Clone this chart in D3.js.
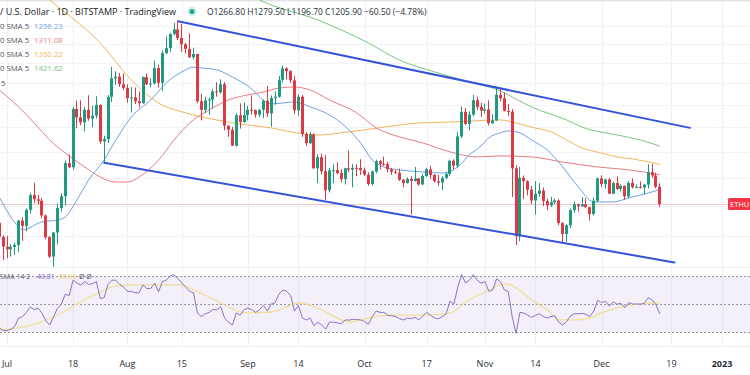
<!DOCTYPE html>
<html>
<head>
<meta charset="utf-8">
<script src="https://cdn.jsdelivr.net/npm/d3@7"></script>
<style>
  body { margin: 0; background: #ffffff; }
  svg { display: block; font-family: "Open Sans", "Noto Sans", sans-serif; }
</style>
</head>
<body>
<script>
// dagelijkse kaarsen ETH/USD, eerste dag 29 juni 2022
var eersteDag = "2022-06-29";

var opens = [1143, 1098,
  1068, 1060, 1067, 1073, 1150, 1133, 1186, 1237, 1222, 1217, 1167, 1097, 1038, 1112, 1192, 1233, 1355, 1339, 1581, 1543, 1522, 1577, 1538, 1551, 1599, 1441, 1451, 1637, 1725, 1733, 1696,
  1679, 1631, 1634, 1616, 1607, 1731, 1696, 1700, 1776, 1703, 1853, 1880, 1958, 1983, 1935, 1901, 1876, 1832, 1849, 1616, 1577, 1620, 1624, 1662, 1658, 1696, 1507, 1490, 1424, 1553, 1523,
  1554, 1577, 1575, 1556, 1577, 1618, 1561, 1631, 1637, 1718, 1775, 1761, 1715, 1575, 1637, 1472, 1434, 1470, 1335, 1378, 1324, 1254, 1327, 1328, 1317, 1295, 1335, 1330, 1337, 1336,
  1328, 1311, 1276, 1323, 1362, 1352, 1351, 1331, 1322, 1318, 1292, 1280, 1295, 1288, 1297, 1275, 1306, 1331, 1310, 1287, 1282, 1299, 1314, 1364, 1345, 1462, 1568, 1515, 1556, 1621, 1590,
  1573, 1579, 1518, 1530, 1646, 1630, 1572, 1569, 1335, 1100, 1299, 1287, 1256, 1218, 1241, 1253, 1216, 1201, 1212, 1218, 1142, 1107, 1135, 1185, 1205, 1198, 1205, 1195, 1172, 1217,
  1297, 1276, 1293, 1242, 1280, 1259, 1270, 1232, 1281, 1265, 1266, 1264, 1274, 1320, 1308, 1266.8];

var highs = [1143, 1103,
  1101, 1076, 1080, 1152, 1162, 1191, 1245, 1281, 1238, 1226, 1170, 1101, 1113, 1207, 1244, 1365, 1388, 1590, 1620, 1620, 1590, 1644, 1595, 1639, 1601, 1465, 1645, 1782, 1760, 1751, 1750,
  1696, 1683, 1680, 1662, 1734, 1748, 1725, 1815, 1793, 1869, 1944, 1962, 2020, 2030, 2014, 1908, 1961, 1882, 1850, 1650, 1637, 1633, 1675, 1706, 1720, 1707, 1510, 1502, 1562, 1606, 1610,
  1595, 1643, 1579, 1580, 1624, 1688, 1643, 1662, 1737, 1789, 1780, 1765, 1737, 1649, 1645, 1480, 1480, 1475, 1390, 1392, 1387, 1336, 1350, 1358, 1331, 1337, 1404, 1351, 1350, 1370,
  1338, 1320, 1326, 1368, 1366, 1380, 1359, 1337, 1330, 1334, 1295, 1301, 1306, 1340, 1299, 1313, 1337, 1343, 1313, 1310, 1305, 1320, 1368, 1370, 1480, 1591, 1585, 1570, 1645, 1636, 1609,
  1606, 1620, 1558, 1680, 1677, 1656, 1604, 1581, 1347, 1340, 1308, 1290, 1270, 1287, 1280, 1264, 1225, 1231, 1225, 1222, 1145, 1138, 1190, 1214, 1207, 1230, 1226, 1196, 1228, 1300,
  1309, 1296, 1298, 1284, 1305, 1275, 1271, 1286, 1297, 1275, 1286, 1277, 1350, 1352, 1318, 1279.5];

var lows = [1076, 1028,
  1033, 1038, 1043, 1051, 1086, 1116, 1173, 1209, 1205, 1158, 1090, 1034, 1006, 1075, 1180, 1200, 1335, 1330, 1496, 1510, 1483, 1529, 1500, 1538, 1432, 1356, 1435, 1613, 1692, 1683, 1668,
  1609, 1565, 1603, 1587, 1605, 1692, 1682, 1695, 1681, 1664, 1850, 1860, 1950, 1924, 1860, 1851, 1828, 1820, 1607, 1530, 1562, 1555, 1583, 1637, 1650, 1488, 1460, 1422, 1420, 1495, 1520,
  1530, 1556, 1542, 1545, 1540, 1545, 1503, 1600, 1632, 1704, 1720, 1703, 1558, 1550, 1460, 1423, 1430, 1333, 1280, 1312, 1220, 1246, 1280, 1312, 1282, 1275, 1320, 1265, 1305, 1310,
  1305, 1270, 1271, 1316, 1330, 1345, 1320, 1310, 1313, 1287, 1265, 1278, 1170, 1285, 1270, 1273, 1302, 1295, 1282, 1270, 1255, 1295, 1305, 1330, 1337, 1455, 1510, 1488, 1548, 1575, 1545,
  1561, 1508, 1515, 1528, 1616, 1570, 1550, 1230, 1073, 1085, 1222, 1236, 1206, 1170, 1231, 1199, 1185, 1196, 1206, 1135, 1078, 1082, 1126, 1176, 1180, 1196, 1192, 1150, 1167, 1212,
  1265, 1260, 1240, 1241, 1255, 1250, 1220, 1226, 1260, 1262, 1260, 1240, 1260, 1300, 1261, 1196.7];

var closes = [1098, 1068,
  1060, 1067, 1073, 1150, 1133, 1186, 1237, 1222, 1217, 1167, 1097, 1038, 1112, 1192, 1233, 1355, 1339, 1581, 1543, 1522, 1577, 1538, 1551, 1599, 1441, 1451, 1637, 1725, 1733, 1696, 1679,
  1631, 1634, 1616, 1607, 1731, 1696, 1700, 1776, 1703, 1853, 1880, 1958, 1983, 1935, 1901, 1876, 1832, 1849, 1616, 1577, 1620, 1624, 1662, 1658, 1696, 1507, 1490, 1424, 1553, 1523, 1554,
  1577, 1575, 1556, 1577, 1618, 1561, 1631, 1637, 1718, 1775, 1761, 1715, 1575, 1637, 1472, 1434, 1470, 1335, 1378, 1324, 1254, 1327, 1328, 1317, 1295, 1335, 1330, 1337, 1336, 1328,
  1311, 1276, 1323, 1362, 1352, 1351, 1331, 1322, 1318, 1292, 1280, 1295, 1288, 1297, 1275, 1306, 1331, 1310, 1287, 1282, 1299, 1314, 1364, 1345, 1462, 1568, 1515, 1556, 1621, 1590, 1573,
  1579, 1518, 1530, 1646, 1630, 1572, 1569, 1335, 1100, 1299, 1287, 1256, 1218, 1241, 1253, 1216, 1201, 1212, 1218, 1142, 1107, 1135, 1185, 1205, 1198, 1205, 1195, 1172, 1217, 1297,
  1276, 1293, 1242, 1280, 1259, 1270, 1232, 1281, 1265, 1266, 1264, 1274, 1320, 1308, 1266.8, 1205.9];

var rsi = [33, 31,
  31, 32, 34, 40, 41, 44, 48, 46, 47, 43.6, 38, 35, 41, 47, 50, 57, 56, 67, 65, 63.6, 66, 64, 64.5, 66, 54, 54.5, 64, 67, 67, 64, 62,
  59, 59, 58, 58, 63.6, 61, 61, 65, 58.6, 66, 67, 70, 71, 68, 65, 62, 59, 58, 43.6, 41, 43, 44, 46, 46, 48, 40, 37, 35, 43.6, 42, 46,
  47, 46, 44, 46, 49, 45, 50, 51, 57, 60, 59, 56, 45, 49, 40, 38.6, 40, 34.5, 37, 35, 32, 37, 37, 36.5, 36, 38.6, 38.5, 39, 39, 38.6,
  37.5, 35.5, 41, 45, 44, 44, 42, 41.5, 41, 39.5, 38.6, 40, 39.5, 40.5, 38.6, 41.5, 44, 42, 40, 39.5, 41, 43, 52, 50, 62, 71, 65, 67, 71, 67, 65,
  66, 59, 60, 68, 66, 60, 59, 41, 29, 44, 43.6, 42, 40.5, 42, 43, 41, 40, 41, 41.5, 37, 35, 37.5, 41.5, 43, 43, 43.3, 42.5, 41, 45, 52.5,
  51, 52, 48.5, 51.5, 49.8, 50.5, 47.5, 51, 50, 50, 49.8, 50.5, 54.5, 53, 49.5, 43.01];

var smaBlauwDatum = ["2022-06-29", "2022-07-04", "2022-07-05", "2022-07-10", "2022-07-14", "2022-07-16", "2022-07-19", "2022-07-22", "2022-07-26", "2022-07-29", "2022-08-02", "2022-08-07", "2022-08-11", "2022-08-15", "2022-08-18", "2022-08-20", "2022-08-24", "2022-08-28", "2022-09-01", "2022-09-07", "2022-09-10", "2022-09-13", "2022-09-17", "2022-09-21", "2022-09-25", "2022-09-30", "2022-10-03", "2022-10-06", "2022-10-10", "2022-10-16", "2022-10-21", "2022-10-25", "2022-10-28", "2022-10-31", "2022-11-02", "2022-11-05", "2022-11-07", "2022-11-10", "2022-11-13", "2022-11-17", "2022-11-21", "2022-11-25", "2022-11-29", "2022-12-04", "2022-12-08", "2022-12-13", "2022-12-16"];
var smaBlauw = [1230, 1130, 1120, 1146, 1152, 1162, 1220, 1291, 1367, 1447, 1545, 1622, 1703, 1757, 1781, 1777, 1767, 1732, 1688, 1604, 1608, 1613, 1590, 1563, 1519, 1435, 1367, 1340, 1329, 1321, 1317, 1340, 1387, 1423, 1456, 1477, 1485, 1477, 1447, 1407, 1340, 1266, 1213, 1213, 1227, 1244, 1256];

var smaRoodDatum = ["2022-06-29", "2022-07-04", "2022-07-08", "2022-07-12", "2022-07-16", "2022-07-21", "2022-07-25", "2022-07-29", "2022-08-01", "2022-08-04", "2022-08-09", "2022-08-13", "2022-08-17", "2022-08-22", "2022-08-27", "2022-09-01", "2022-09-05", "2022-09-09", "2022-09-13", "2022-09-17", "2022-09-22", "2022-09-29", "2022-10-04", "2022-10-10", "2022-10-16", "2022-10-23", "2022-10-30", "2022-11-05", "2022-11-13", "2022-11-21", "2022-11-30", "2022-12-08", "2022-12-16"];
var smaRood = [1669, 1590, 1519, 1447, 1394, 1340, 1302, 1284, 1284, 1302, 1367, 1447, 1519, 1576, 1622, 1646, 1659, 1678, 1683, 1669, 1622, 1563, 1498, 1460, 1435, 1399, 1379, 1383, 1379, 1359, 1340, 1329, 1311];

var smaOranjeDatum = ["2022-06-29", "2022-07-12", "2022-07-25", "2022-08-02", "2022-08-09", "2022-08-16", "2022-08-24", "2022-09-01", "2022-09-07", "2022-09-12", "2022-09-19", "2022-09-27", "2022-10-06", "2022-10-15", "2022-10-23", "2022-11-05", "2022-11-09", "2022-11-13", "2022-11-18", "2022-11-22", "2022-11-26", "2022-12-01", "2022-12-05", "2022-12-09", "2022-12-16"];
var smaOranje = [2450, 2156, 1908, 1717, 1608, 1563, 1532, 1510, 1498, 1481, 1468, 1481, 1501, 1519, 1523, 1532, 1519, 1501, 1481, 1447, 1415, 1394, 1379, 1371, 1350];

var smaGroenDatum = ["2022-08-25", "2022-09-04", "2022-09-19", "2022-10-02", "2022-10-10", "2022-10-19", "2022-10-28", "2022-11-05", "2022-11-09", "2022-11-13", "2022-11-22", "2022-11-26", "2022-12-05", "2022-12-11", "2022-12-16"];
var smaGroen = [2300, 2156, 2037, 1908, 1817, 1757, 1707, 1664, 1626, 1590, 1532, 1501, 1468, 1447, 1422];

// gemiddelde van de RSI (gele lijn)
var rsiSmaDatum = ["2022-06-29", "2022-07-04", "2022-07-09", "2022-07-15", "2022-07-20", "2022-07-25", "2022-07-29", "2022-08-04", "2022-08-11", "2022-08-15", "2022-08-17", "2022-08-22", "2022-08-27", "2022-08-30", "2022-09-01", "2022-09-07", "2022-09-11", "2022-09-14", "2022-09-19", "2022-09-24", "2022-09-27", "2022-10-02", "2022-10-08", "2022-10-13", "2022-10-18", "2022-10-23", "2022-10-27", "2022-11-01", "2022-11-05", "2022-11-07", "2022-11-09", "2022-11-13", "2022-11-18", "2022-11-20", "2022-11-24", "2022-11-28", "2022-12-01", "2022-12-05", "2022-12-09", "2022-12-14", "2022-12-16"];
var rsiSma = [31.4, 32.9, 36.4, 43.6, 51.4, 58.6, 62.9, 63.6, 63.6, 63.6, 61.4, 55, 47.9, 44.3, 43.6, 44.3, 47.9, 50.7, 47.1, 40, 37.1, 40, 42.1, 42.1, 42.1, 43.6, 51.4, 58.6, 63.6, 64.3, 61.4, 52.9, 43.6, 38.6, 38.6, 40, 43.6, 47.1, 49.3, 50.7, 50.93];

// trendkanaal (begin- en eindpunt)
var kanaalBovenDatum = ["2022-08-14T00:00", "2022-12-23T18:00"];
var kanaalBoven = [2030, 1498];
var kanaalOnderDatum = ["2022-07-26T00:00", "2022-12-19T18:00"];
var kanaalOnder = [1356, 1021];

// tijd-as
var asDatum = ["2022-07-01", "2022-07-18", "2022-08-01", "2022-08-15", "2022-09-01", "2022-09-14", "2022-10-01", "2022-10-17", "2022-11-01", "2022-11-14", "2022-12-01", "2022-12-19", "2023-01-01"];
var asLabels = ["Jul", "18", "Aug", "15", "Sep", "14", "Oct", "17", "Nov", "14", "Dec", "19", "2023"];

var prijsRaster = [1100, 1200, 1300, 1400, 1500, 1600, 1700, 1800, 1900, 2000];
var rsiNiveaus = [70, 50, 30];

// legenda
var smaLabels = ["0 SMA 5", "0 SMA 5", "0 SMA 5", "0 SMA 5"];
var smaWaarden = ["1256.23", "1311.08", "1350.22", "1421.62"];
var smaKleuren = ["#6f9fe6", "#ea7b84", "#f3b55b", "#7cc47f"];

var breedte = 750;
var hoogte = 375;
var hoofdOnder = 267;
var rsiOnder = 346;

var parseDag = d3.utcParse("%Y-%m-%d");
var parseTijd = d3.utcParse("%Y-%m-%dT%H:%M");

var svg = d3.select("body")
    .append("svg")
    .attr("width", breedte)
    .attr("height", hoogte);

// schalen
var x = d3.scaleUtc()
    .domain([parseDag("2022-07-01"), parseDag("2023-01-01")])
    .range([7, 722]);

var y = d3.scaleLog()
    .domain([1000, 2100])
    .range([269.7, 9.3]);

var yRsi = d3.scaleLinear()
    .domain([30, 70])
    .range([332, 276]);

// knipvlakken voor de twee panelen
var defs = svg.append("defs");
defs.append("clipPath").attr("id", "hoofd")
  .append("rect").attr("x", 0).attr("y", 0).attr("width", breedte).attr("height", hoofdOnder);
defs.append("clipPath").attr("id", "paneel")
  .append("rect").attr("x", 0).attr("y", hoofdOnder).attr("width", breedte).attr("height", rsiOnder - hoofdOnder);

// rasterlijnen
svg.append("g")
  .selectAll("line")
  .data(asDatum)
  .enter().append("line")
  .attr("x1", function(d) { return Math.round(x(parseDag(d))) + 0.5; })
  .attr("x2", function(d) { return Math.round(x(parseDag(d))) + 0.5; })
  .attr("y1", 0)
  .attr("y2", rsiOnder)
  .attr("stroke", "#f0f2f6");

svg.append("g")
  .selectAll("line")
  .data(prijsRaster)
  .enter().append("line")
  .attr("x1", 0)
  .attr("x2", breedte)
  .attr("y1", function(d) { return Math.round(y(d)) + 0.5; })
  .attr("y2", function(d) { return Math.round(y(d)) + 0.5; })
  .attr("stroke", "#f3f4f8");

// randen
svg.append("rect").attr("x", 0).attr("y", 0).attr("width", breedte).attr("height", 1.5).attr("fill", "#e3e5ea");
svg.append("line").attr("x1", 0).attr("x2", breedte).attr("y1", hoofdOnder + 0.5).attr("y2", hoofdOnder + 0.5).attr("stroke", "#eef0f4");
svg.append("line").attr("x1", 0).attr("x2", breedte).attr("y1", rsiOnder + 0.5).attr("y2", rsiOnder + 0.5).attr("stroke", "#eceef2");

// RSI paneel: band en stippellijnen
svg.append("rect")
  .attr("x", 0)
  .attr("y", yRsi(70))
  .attr("width", breedte)
  .attr("height", yRsi(30) - yRsi(70))
  .attr("fill", "#7e57c2")
  .attr("fill-opacity", 0.09);

svg.append("g")
  .selectAll("line")
  .data(rsiNiveaus)
  .enter().append("line")
  .attr("x1", 0)
  .attr("x2", breedte)
  .attr("y1", function(d) { return Math.round(yRsi(d)) + 0.5; })
  .attr("y2", function(d) { return Math.round(yRsi(d)) + 0.5; })
  .attr("stroke", "#9598a1")
  .attr("stroke-dasharray", "2,2");

// kaarsen opbouwen
var start = parseDag(eersteDag);
var dagen = d3.utcDay.range(start, d3.utcDay.offset(start, closes.length));
var kaarsen = dagen.map(function(d, i) {
  return {datum: d, o: opens[i], h: highs[i], l: lows[i], c: closes[i], rsi: rsi[i]};
});

var hoofd = svg.append("g").attr("clip-path", "url(#hoofd)");

// lijn van de laatste koers
var laatste = kaarsen[kaarsen.length - 1];
hoofd.append("line")
  .attr("x1", 0)
  .attr("x2", 728)
  .attr("y1", Math.round(y(laatste.c)) + 0.5)
  .attr("y2", Math.round(y(laatste.c)) + 0.5)
  .attr("stroke", "#f4c4c8");

// gemiddelden tekenen
function smaLijn(datums, waarden, kleur) {
  var punten = datums.map(function(d, i) { return [parseDag(d), waarden[i]]; });
  var lijn = d3.line()
      .x(function(d) { return x(d[0]); })
      .y(function(d) { return y(d[1]); })
      .curve(d3.curveMonotoneX);
  hoofd.append("path")
    .datum(punten)
    .attr("d", lijn)
    .attr("fill", "none")
    .attr("stroke", kleur)
    .attr("stroke-width", 1);
}
smaLijn(smaGroenDatum, smaGroen, smaKleuren[3]);
smaLijn(smaOranjeDatum, smaOranje, smaKleuren[2]);
smaLijn(smaRoodDatum, smaRood, smaKleuren[1]);
smaLijn(smaBlauwDatum, smaBlauw, smaKleuren[0]);

// kaarsen
var kleurOp = "#1f9a7f";
var kleurNeer = "#dc3a44";

function kaarsX(d) { return Math.round(x(d.datum) - 1.5); }

hoofd.selectAll("line.lont")
  .data(kaarsen)
  .enter().append("line")
  .attr("class", "lont")
  .attr("x1", function(d) { return kaarsX(d) + 1.5; })
  .attr("x2", function(d) { return kaarsX(d) + 1.5; })
  .attr("y1", function(d) { return y(d.h); })
  .attr("y2", function(d) { return y(d.l); })
  .attr("stroke", function(d) { return d.c >= d.o ? kleurOp : kleurNeer; })
  .attr("stroke-width", 1);

hoofd.selectAll("rect.lijf")
  .data(kaarsen)
  .enter().append("rect")
  .attr("class", "lijf")
  .attr("x", kaarsX)
  .attr("y", function(d) { return y(Math.max(d.o, d.c)); })
  .attr("width", 3)
  .attr("height", function(d) { return Math.max(1, y(Math.min(d.o, d.c)) - y(Math.max(d.o, d.c))); })
  .attr("fill", function(d) { return d.c >= d.o ? kleurOp : kleurNeer; });

// trendkanaal
function kanaal(datums, waarden) {
  hoofd.append("line")
    .attr("x1", x(parseTijd(datums[0])))
    .attr("y1", y(waarden[0]))
    .attr("x2", x(parseTijd(datums[1])))
    .attr("y2", y(waarden[1]))
    .attr("stroke", "#3453d8")
    .attr("stroke-width", 2)
    .attr("stroke-linecap", "round");
}
kanaal(kanaalBovenDatum, kanaalBoven);
kanaal(kanaalOnderDatum, kanaalOnder);

// RSI lijnen
var paneel = svg.append("g").attr("clip-path", "url(#paneel)");

var rsiSmaPunten = rsiSmaDatum.map(function(d, i) { return [parseDag(d), rsiSma[i]]; });
paneel.append("path")
  .datum(rsiSmaPunten)
  .attr("d", d3.line()
      .x(function(d) { return x(d[0]); })
      .y(function(d) { return yRsi(d[1]); })
      .curve(d3.curveMonotoneX))
  .attr("fill", "none")
  .attr("stroke", "#f2df99")
  .attr("stroke-width", 1.3);

paneel.append("path")
  .datum(kaarsen)
  .attr("d", d3.line()
      .x(function(d) { return x(d.datum); })
      .y(function(d) { return yRsi(d.rsi); }))
  .attr("fill", "none")
  .attr("stroke", "#8b74c4")
  .attr("stroke-width", 1);

// koerslabel rechts (valt deels buiten beeld, zoals in het origineel)
svg.append("rect")
  .attr("x", 728)
  .attr("y", y(laatste.c) - 6)
  .attr("width", 30)
  .attr("height", 12)
  .attr("rx", 1.5)
  .attr("fill", "#f23645");
svg.append("text")
  .attr("x", 730)
  .attr("y", y(laatste.c) + 3)
  .attr("font-size", "7.5px")
  .attr("fill", "#ffffff")
  .text("ETHU");

// tijd-as labels
svg.append("g")
  .selectAll("text")
  .data(asDatum)
  .enter().append("text")
  .attr("x", function(d) { return x(parseDag(d)); })
  .attr("y", 367)
  .attr("text-anchor", "middle")
  .attr("font-size", "9px")
  .attr("font-weight", function(d, i) { return asLabels[i] == "2023" ? "bold" : "normal"; })
  .attr("fill", "#2a2e39")
  .text(function(d, i) { return asLabels[i]; });

// titel en OHLC regel
svg.append("text")
  .attr("x", 0)
  .attr("y", 15)
  .attr("font-size", "9px")
  .attr("fill", "#131722")
  .text("/ U.S. Dollar · 1D · BITSTAMP · TradingView");

svg.append("circle").attr("cx", 192).attr("cy", 11.5).attr("r", 5).attr("fill", "#22ab94").attr("fill-opacity", 0.18);
svg.append("circle").attr("cx", 192).attr("cy", 11.5).attr("r", 2.5).attr("fill", "#22ab94");

svg.append("text")
  .attr("x", 207)
  .attr("y", 15)
  .attr("font-size", "8.5px")
  .attr("fill", "#2a2e39")
  .text("O1266.80 H1279.50 L1196.70 C1205.90 −60.50 (−4.78%)");

// legenda van de gemiddelden
var legenda = svg.append("g");
legenda.selectAll("text.naam")
  .data(smaLabels)
  .enter().append("text")
  .attr("class", "naam")
  .attr("x", 0)
  .attr("y", function(d, i) { return 29 + i * 14; })
  .attr("font-size", "7.8px")
  .attr("fill", "#50535e")
  .text(function(d) { return d; });

legenda.selectAll("text.waarde")
  .data(smaWaarden)
  .enter().append("text")
  .attr("class", "waarde")
  .attr("x", 34)
  .attr("y", function(d, i) { return 29 + i * 14; })
  .attr("font-size", "7.8px")
  .attr("fill", function(d, i) { return smaKleuren[i]; })
  .text(function(d) { return d; });

svg.append("text")
  .attr("x", 1)
  .attr("y", 86)
  .attr("font-size", "7.8px")
  .attr("fill", "#50535e")
  .text("5");

// RSI legenda
svg.append("text").attr("x", 0).attr("y", 279).attr("font-size", "7px").attr("fill", "#50535e").text("SMA 14 2");
svg.append("text").attr("x", 37).attr("y", 279).attr("font-size", "7px").attr("fill", "#7e57c2").text("43.01");
svg.append("text").attr("x", 59).attr("y", 279).attr("font-size", "7px").attr("fill", "#e9cf57").text("50.93");
svg.append("text").attr("x", 79).attr("y", 279).attr("font-size", "7px").attr("fill", "#50535e").text("Ø  Ø");
</script>
</body>
</html>
